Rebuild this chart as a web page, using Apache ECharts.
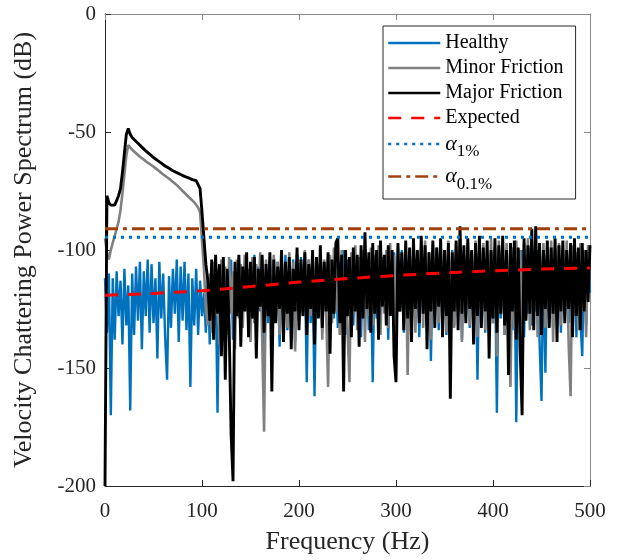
<!DOCTYPE html>
<html>
<head>
<meta charset="utf-8">
<script src="https://cdn.jsdelivr.net/npm/echarts@6/dist/echarts.min.js"></script>
<style>
html,body{margin:0;padding:0;background:#fff;}
#chart{width:622px;height:560px;}
</style>
</head>
<body>
<div id="chart"></div>
<script>
// Frequency grid step (Hz) of the spectra
const freqStep = 2;

// Healthy spectrum (dB), f = 0,2,...,500 Hz
const healthy = [
-112,-135,-110,-170,-112,-138,-109,-128,-113,-140,
-108,-132,-115,-168,-110,-136,-107,-130,-105,-142,
-109,-128,-104,-135,-106,-131,-112,-146,-105,-129,
-110,-137,-155,-111,-133,-108,-127,-104,-139,-107,
-130,-105,-134,-110,-158,-112,-132,-108,-136,-113,
-128,-118,-135,-112,-140,-108,-128,-110,-169,-112,
-130,-106,-134,-111,-125,-104,-138,-109,-127,-103,
-132,-108,-124,-105,-136,-110,-129,-102,-133,-107,
-126,-104,-155,-109,-131,-103,-137,-108,-125,-105,
-141,-110,-128,-102,-134,-106,-127,-104,-139,-108,
-130,-103,-126,-107,-156,-104,-131,-109,-162,-105,
-128,-102,-135,-106,-124,-103,-138,-108,-129,-101,
-133,-105,-127,-100,-136,-104,-125,-107,-132,-102,
-128,-106,-137,-101,-126,-104,-134,-107,-156,-103,
-129,-100,-133,-105,-125,-102,-138,-106,-127,-101,
-131,-104,-126,-100,-135,-105,-128,-102,-133,-107,
-124,-101,-137,-104,-126,-100,-131,-106,-147,-103,
-128,-99,-134,-104,-125,-101,-136,-105,-127,-100,
-132,-103,-126,-99,-138,-104,-129,-101,-133,-106,
-125,-100,-155,-103,-128,-99,-135,-104,-127,-101,
-131,-105,-169,-100,-129,-103,-136,-99,-126,-104,
-134,-101,-173,-105,-128,-100,-137,-103,-127,-99,
-132,-104,-126,-100,-139,-164,-103,-152,-101,-129,
-105,-133,-100,-127,-104,-135,-99,-128,-103,-131,
-100,-126,-104,-137,-101,-129,-145,-103,-132,-100,
-118
];

// Minor friction spectrum (dB)
const minorFriction = [
-95,-101,-104,-100,-97,-94,-91,-88,-83,-76,
-68,-60,-55.5,-56.5,-57.5,-58.3,-59,-59.8,-60.5,-61,
-61.7,-62.3,-63,-63.5,-64.1,-64.6,-65.3,-65.9,-66.6,-67.2,
-68,-68.5,-69.2,-69.8,-70.4,-71,-71.8,-72.3,-73.2,-74,
-75,-75.4,-76.6,-76.9,-78.2,-78.5,-79.8,-80.6,-82,-84,
-96,-108,-125,-132,-110,-135,-105,-128,-108,-140,
-104,-130,-107,-136,-103,-127,-109,-142,-104,-129,
-106,-133,-102,-126,-108,-139,-103,-131,-106,-125,
-101,-137,-177,-104,-128,-107,-134,-102,-127,-105,
-136,-103,-129,-106,-133,-101,-126,-105,-143,-102,
-130,-106,-127,-100,-135,-104,-128,-102,-133,-106,
-125,-101,-138,-104,-127,-158,-102,-131,-99,-126,
-103,-136,-100,-128,-104,-133,-156,-101,-127,-98,
-134,-103,-126,-100,-139,-104,-128,-99,-132,-102,
-125,-98,-136,-103,-127,-100,-133,-97,-128,-102,
-137,-99,-126,-103,-131,-98,-153,-101,-127,-97,
-135,-102,-126,-99,-133,-96,-128,-101,-138,-98,
-126,-102,-131,-97,-127,-100,-135,-96,-128,-101,
-133,-98,-126,-95,-139,-100,-127,-97,-132,-101,
-125,-96,-137,-100,-128,-97,-134,-101,-126,-95,
-131,-99,-145,-96,-127,-100,-136,-97,-128,-158,
-99,-133,-96,-127,-100,-146,-97,-128,-95,-134,
-99,-126,-96,-137,-100,-128,-97,-133,-101,-126,
-96,-139,-99,-127,-97,-132,-100,-126,-96,-140,
-162,-98,-128,-101,-134,-97,-126,-100,-137,-98,
-104
];

// Major friction spectrum (dB)
const majorFriction = [
-200,-77,-80,-81,-80.5,-81,-79,-77,-74,-67,
-59,-51,-48.5,-51,-52.3,-53.2,-54,-54.8,-55.6,-56.4,
-57.2,-58,-58.7,-59.4,-60.1,-60.8,-61.4,-62,-62.6,-63.2,
-63.8,-64.4,-64.9,-65.4,-65.9,-66.4,-66.8,-67.2,-67.6,-68,
-68.4,-68.8,-69.1,-69.4,-69.8,-70.2,-70.4,-70.6,-71,-74,
-84,-95,-106,-113,-130,-104,-138,-102,-127,-106,
-145,-103,-155,-108,-133,-178,-198,-105,-128,-102,
-141,-107,-126,-101,-137,-105,-129,-103,-146,-108,
-124,-102,-135,-106,-128,-101,-160,-104,-131,-107,
-125,-100,-139,-105,-127,-103,-142,-108,-126,-99,
-134,-104,-128,-101,-136,-106,-125,-100,-140,-103,
-129,-98,-133,-105,-126,-101,-144,-104,-127,-97,
-95,-131,-102,-160,-100,-128,-103,-137,-99,-126,
-102,-141,-98,-129,-92.5,-125,-101,-135,-97,-127,
-100,-138,-96,-124,-102,-132,-98,-128,-100,-145,
-156,-97,-126,-101,-134,-96,-129,-99,-139,-95,
-125,-100,-131,-94,-127,-98,-142,-101,-126,-96,
-133,-99,-124,-95,-137,-100,-128,-97,-163,-101,
-126,-96,-134,-90,-127,-98,-131,-95,-125,-100,
-140,-97,-128,-94,-133,-99,-126,-96,-146,-100,
-129,-95,-135,-98,-127,-94,-132,-100,-153,-97,
-126,-96,-138,-99,-142,-170,-95,-130,-98,-127,
-91,-134,-90,-128,-97,-136,-100,-125,-96,-133,
-99,-127,-95,-139,-98,-126,-96,-131,-100,-125,
-97,-137,-95,-128,-99,-134,-97,-126,-100,-122,
-98
];

// Expected level (dB) at these frequencies (Hz)
const expectedFreq = [0,50,100,150,200,250,300,350,400,450,500];
const expectedVal = [-119.2,-118.4,-117.3,-115.5,-113.6,-112.1,-110.8,-109.7,-108.8,-108.1,-107.6];

// Thresholds (dB)
const alpha1 = -94.6;
const alpha01 = -91.0;
const thresholdFreq = [0, 500];

// Axis ticks
const xTicks = {min: 0, max: 500, step: 100};
const yTicks = {min: -200, max: 0, step: 50};

const seriesNames = ['Healthy','Minor Friction','Major Friction','Expected','α1%','α0.1%'];

const FONT = 'Liberation Serif';
const toPairs = arr => arr.map((v, i) => [i * freqStep, v]);

const chart = echarts.init(document.getElementById('chart'), null, {renderer: 'canvas'});

const axisCommon = (isX, main) => ({
  type: 'value',
  min: isX ? xTicks.min : yTicks.min,
  max: isX ? xTicks.max : yTicks.max,
  interval: isX ? xTicks.step : yTicks.step,
  axisLine: {show: true, onZero: false, lineStyle: {color: main ? '#262626' : '#8a8a8a', width: 1}},
  axisTick: {show: true, inside: true, length: 6, lineStyle: {color: main ? '#262626' : '#8a8a8a'}},
  splitLine: {show: false},
  axisLabel: main ? {show: true, fontFamily: FONT, fontSize: 21, color: '#262626', margin: isX ? 15 : 9} : {show: false}
});

const option = {
  animation: false,
  backgroundColor: '#ffffff',
  grid: {left: 105, right: 32, top: 14, bottom: 72, containLabel: false},
  xAxis: [
    Object.assign(axisCommon(true, true), {position: 'bottom', name: 'Frequency (Hz)', nameLocation: 'middle', nameGap: 43,
      nameTextStyle: {fontFamily: FONT, fontSize: 26, color: '#262626'}}),
    Object.assign(axisCommon(true, false), {position: 'top'})
  ],
  yAxis: [
    Object.assign(axisCommon(false, true), {position: 'left', name: 'Velocity Chattering Power Spectrum (dB)', nameLocation: 'middle', nameGap: 68,
      nameTextStyle: {fontFamily: FONT, fontSize: 26, color: '#262626'}}),
    Object.assign(axisCommon(false, false), {position: 'right'})
  ],
  legend: {
    orient: 'vertical',
    left: 383, top: 26,
    backgroundColor: '#ffffff',
    borderColor: '#262626', borderWidth: 1, borderRadius: 0,
    padding: [7, 12, 6, 4],
    itemWidth: 52, itemHeight: 14, itemGap: 5,
    itemStyle: {opacity: 0},
    lineStyle: {width: 2.5},
    data: seriesNames,
    formatter: function (name) {
      if (name === 'α1%') return '{a|α}{s|1%}';
      if (name === 'α0.1%') return '{a|α}{s|0.1%}';
      return name;
    },
    textStyle: {fontFamily: FONT, fontSize: 20, color: '#000',
      rich: {
        a: {fontFamily: FONT, fontSize: 22, fontStyle: 'italic', color: '#000'},
        s: {fontFamily: FONT, fontSize: 17, color: '#000', padding: [16, 0, 0, 0]}
      }
    }
  },
  series: [
    {name: 'Healthy', type: 'line', data: toPairs(healthy), symbol: 'none',
      lineStyle: {color: '#0072BD', width: 2.4}, itemStyle: {color: '#0072BD'}},
    {name: 'Minor Friction', type: 'line', data: toPairs(minorFriction), symbol: 'none',
      lineStyle: {color: '#808080', width: 2.6}, itemStyle: {color: '#808080'}},
    {name: 'Major Friction', type: 'line', data: toPairs(majorFriction), symbol: 'none',
      lineStyle: {color: '#000000', width: 2.9}, itemStyle: {color: '#000000'}},
    {name: 'Expected', type: 'line', data: expectedFreq.map((f, i) => [f, expectedVal[i]]), symbol: 'none',
      lineStyle: {color: '#FF0000', width: 3, type: [13, 10]}, itemStyle: {color: '#FF0000'}},
    {name: 'α1%', type: 'line', data: thresholdFreq.map(f => [f, alpha1]), symbol: 'none',
      lineStyle: {color: '#0072BD', width: 3, type: [3, 5]}, itemStyle: {color: '#0072BD'}},
    {name: 'α0.1%', type: 'line', data: thresholdFreq.map(f => [f, alpha01]), symbol: 'none',
      lineStyle: {color: '#A0410D', width: 3, type: [13, 5, 4, 5]}, itemStyle: {color: '#A0410D'}}
  ]
};
chart.setOption(option);
</script>
</body>
</html>
